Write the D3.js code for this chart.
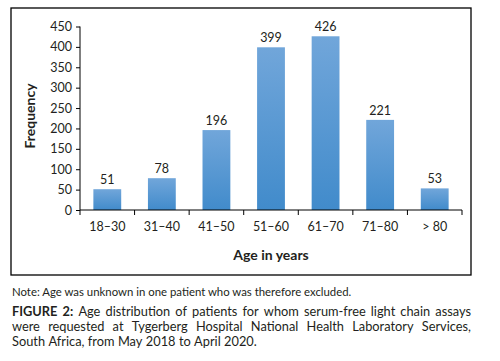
<!DOCTYPE html>
<html><head><meta charset="utf-8">
<script src="https://cdn.jsdelivr.net/npm/d3@7"></script>
<style>body{margin:0;background:#fff}svg{display:block}</style>
</head><body>
<svg id="c" width="500" height="361"></svg>
<script>
const categories = ["18–30","31–40","41–50","51–60","61–70","71–80","> 80"];
const frequency = [51,78,196,399,426,221,53];
const yTicks = [0,50,100,150,200,250,300,350,400,450];
const noteText = "Note: Age was unknown in one patient who was therefore excluded.";
const captionLines = [
  [{t:"FIGURE 2:",b:true},{t:"Age distribution of patients for whom serum-free light chain assays"}],
  [{t:"were requested at Tygerberg Hospital National Health Laboratory Services,"}],
  [{t:"South Africa, from May 2018 to April 2020."}]
];

const svg = d3.select("#c");
const font = "Lato, 'Open Sans', sans-serif";
const ink = "#231f20";

const defs = svg.append("defs");
const g = defs.append("linearGradient").attr("id","bg").attr("x1",0).attr("y1",0).attr("x2",0).attr("y2",1);
g.append("stop").attr("offset","0%").attr("stop-color","#71a6da");
g.append("stop").attr("offset","100%").attr("stop-color","#418bcb");

// frame
svg.append("rect").attr("x",11).attr("y",8).attr("width",460).attr("height",267)
  .attr("fill","none").attr("stroke","#000").attr("stroke-width",1.3);

const x = d3.scaleBand().domain(categories).range([80,462]).paddingInner(0.49).paddingOuter(0.245);
const y = d3.scaleLinear().domain([0,450]).range([210,26.5]);

// y axis
const ya = svg.append("g").attr("transform","translate(80,0)")
  .call(d3.axisLeft(y).tickValues(yTicks).tickSize(4).tickPadding(4));
ya.select(".domain").attr("d","M0,26.5V210").attr("stroke","#000");
ya.selectAll(".tick line").attr("stroke","#000");
ya.selectAll(".tick text").attr("font-family",font).attr("font-size",12.5).attr("fill",ink);

// bars
svg.append("g").selectAll("rect").data(frequency).join("rect")
  .attr("x",(d,i)=>x(categories[i])).attr("width",x.bandwidth())
  .attr("y",d=>y(d)).attr("height",d=>y(0)-y(d)).attr("fill","url(#bg)");

// value labels
svg.append("g").selectAll("text").data(frequency).join("text")
  .attr("x",(d,i)=>x(categories[i])+x.bandwidth()/2).attr("y",d=>y(d)-5)
  .attr("text-anchor","middle").attr("font-family",font).attr("font-size",12.5).attr("fill",ink)
  .text(d=>d);

// x axis
const xa = svg.append("g").attr("transform","translate(0,210)")
  .call(d3.axisBottom(x).tickSize(0).tickPadding(12));
xa.select(".domain").attr("d","M80,0H462").attr("stroke","#000");
xa.selectAll(".tick text").attr("font-family",font).attr("font-size",12.5).attr("fill",ink);
const step = x.step();
xa.selectAll("line.bt").data(d3.range(categories.length+1)).join("line").attr("class","bt")
  .attr("x1",i=>80+i*step).attr("x2",i=>80+i*step).attr("y1",0).attr("y2",5).attr("stroke","#000");

// axis titles
svg.append("text").attr("x",271).attr("y",260).attr("text-anchor","middle")
  .attr("font-family",font).attr("font-weight","bold").attr("font-size",14).attr("fill",ink).text("Age in years");
svg.append("text").attr("transform","translate(35,116) rotate(-90)").attr("text-anchor","middle")
  .attr("font-family",font).attr("font-weight","bold").attr("font-size",14).attr("fill",ink).text("Frequency");

// note, sized to reach the reference width
const note = svg.append("text").attr("x",12).attr("y",296).attr("font-family",font).attr("font-size",10).attr("fill",ink).text(noteText);
const nw = note.node().getComputedTextLength();
note.attr("font-size",10*340/nw);

// caption, justified lines 1-2
const left = 12, right = 471, cfs = 12.8;
captionLines.forEach((segs,li)=>{
  const by = 316 + li*15;
  const words = [];
  segs.forEach(s=>s.t.split(" ").forEach(w=>words.push({t:w,b:!!s.b})));
  const nodes = words.map(w=>svg.append("text").attr("y",by).attr("font-family",font)
    .attr("font-size",cfs).attr("font-weight",w.b?"bold":"normal").attr("fill",ink).text(w.t));
  const widths = nodes.map(n=>n.node().getComputedTextLength());
  const total = d3.sum(widths);
  const justify = li < captionLines.length-1;
  const gap = justify ? (right-left-total)/(words.length-1) : 3.4;
  let cx = left;
  nodes.forEach((n,i)=>{ n.attr("x",cx); cx += widths[i]+gap; });
});
</script>
</body></html>
